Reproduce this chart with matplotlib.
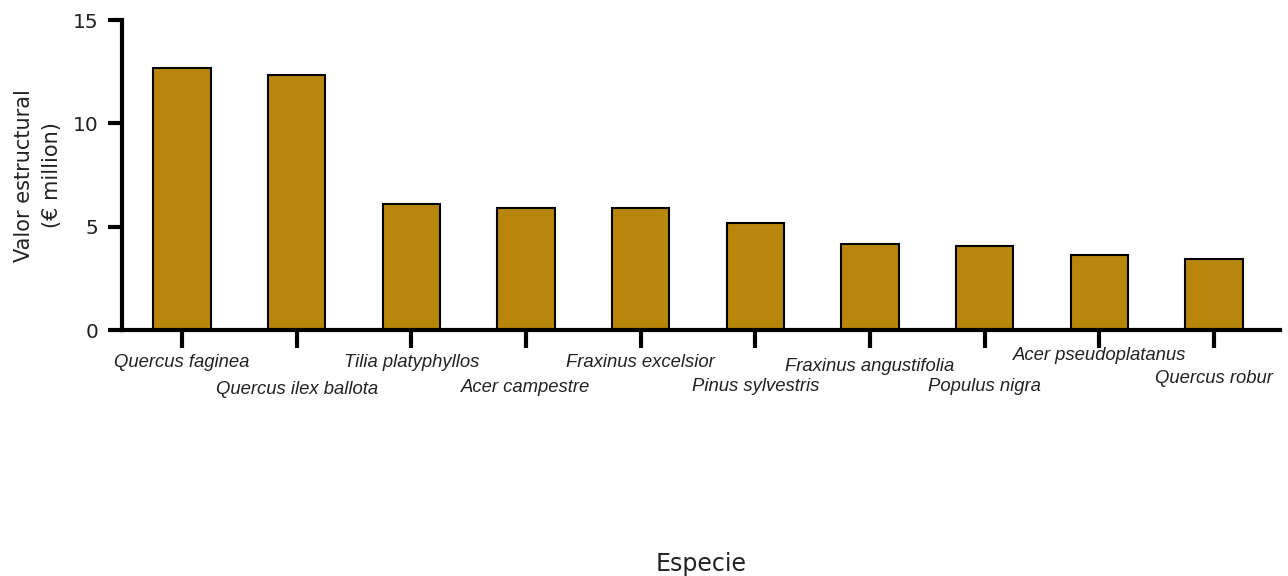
import matplotlib
matplotlib.use("Agg")
import matplotlib.pyplot as plt

# data
especies = ["Quercus faginea", "Quercus ilex ballota", "Tilia platyphyllos",
            "Acer campestre", "Fraxinus excelsior", "Pinus sylvestris",
            "Fraxinus angustifolia", "Populus nigra", "Acer pseudoplatanus",
            "Quercus robur"]
valor = [12.7, 12.35, 6.1, 5.9, 5.9, 5.2, 4.15, 4.05, 3.65, 3.45]
y_ticks = [0, 5, 10, 15]

# how far below the axis each species label sits (pixels), staggered like the original
label_drop = [32, 59, 32, 57, 32, 56, 36, 56, 25, 48]

BAR_COLOR = "#B8860B"
TEXT_COLOR = "#222222"

fig = plt.figure(figsize=(12.88, 5.76), dpi=100)
ax = fig.add_axes([0.0947, 0.427, 0.899, 0.538])

x = list(range(len(especies)))
ax.bar(x, valor, width=0.5, color=BAR_COLOR, edgecolor="black", linewidth=1.5, zorder=2)

ax.set_xlim(-0.523, 9.573)
ax.set_ylim(0, 15)
ax.set_yticks(y_ticks)
ax.set_yticklabels([str(t) for t in y_ticks], fontsize=14.5, color=TEXT_COLOR)
ax.set_xticks(x)
ax.set_xticklabels([])

for side in ["top", "right"]:
    ax.spines[side].set_visible(False)
for side in ["left", "bottom"]:
    ax.spines[side].set_linewidth(3)
ax.tick_params(axis="y", length=10, width=3, pad=7)
ax.tick_params(axis="x", length=13, width=3)

# staggered italic species labels
for i, name in enumerate(especies):
    ax.annotate(name, xy=(i, 0), xycoords=("data", "axes fraction"),
                xytext=(0, -label_drop[i] * 0.72), textcoords="offset points",
                ha="center", va="center", fontsize=13.3, style="italic",
                family="Liberation Sans", color=TEXT_COLOR)

ax.set_ylabel("Valor estructural\n(€ million)", fontsize=15, color=TEXT_COLOR,
              linespacing=1.5)
ax.yaxis.set_label_coords(-0.052, 0.5)
fig.text(0.5445, 0.02, "Especie", ha="center", va="center", fontsize=17,
         color=TEXT_COLOR)

fig.savefig("out.png", dpi=100)
